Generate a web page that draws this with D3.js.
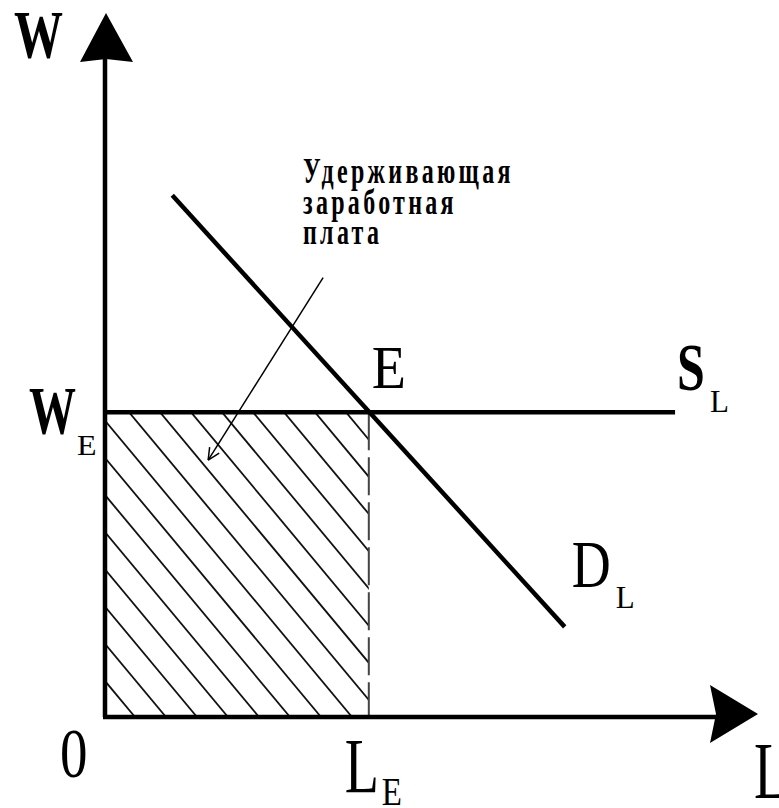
<!DOCTYPE html>
<html>
<head>
<meta charset="utf-8">
<script src="https://cdn.jsdelivr.net/npm/d3@7"></script>
<style>
  html, body { margin: 0; padding: 0; background: #fff; }
  svg { display: block; }
  text { font-family: "Liberation Serif", "Times New Roman", serif; fill: #000; }
</style>
</head>
<body>
<svg id="chart" width="779" height="808"></svg>
<script>
// данные графика (условные единицы)
var axisMax = [100, 100];            // L, W
var demandL = [10.3, 70.4];           // D_L: концы линии спроса
var demandW = [74.1, 12.8];
var supplyL = [0, 87.3];              // S_L: горизонтальная линия предложения
var eqL = 40.4, eqW = 43.3;           // точка равновесия E
var noteArrowL = [33.4, 15.8];        // стрелка от подписи к заштрихованной области
var noteArrowW = [62.4, 36.5];
var noteLines = ["Удерживающая", "заработная", "плата"];

var svg = d3.select("#chart"),
    width = +svg.attr("width"),
    height = +svg.attr("height");

var x = d3.scaleLinear().domain([0, axisMax[0]]).range([105, 758]);
var y = d3.scaleLinear().domain([0, axisMax[1]]).range([717, 13]);

// штриховка
svg.append("clipPath").attr("id", "clip")
  .append("rect")
    .attr("x", x(0)).attr("y", y(eqW))
    .attr("width", x(eqL) - x(0)).attr("height", y(0) - y(eqW));

var slope = 1.2, step = 31, phase = 135;
var hatch = svg.append("g").attr("clip-path", "url(#clip)");
d3.range(-2, 20).forEach(function(k) {
  var xb = phase + k * step;
  hatch.append("line")
    .attr("x1", xb - 400 / slope).attr("y1", y(0) - 400)
    .attr("x2", xb).attr("y2", y(0))
    .attr("stroke", "#111").attr("stroke-width", 1.8);
});

// пунктир L_E
svg.append("line")
  .attr("x1", x(eqL)).attr("y1", y(eqW))
  .attr("x2", x(eqL)).attr("y2", y(0))
  .attr("stroke", "#444").attr("stroke-width", 2)
  .attr("stroke-dasharray", "38,7");

// оси
svg.append("line")
  .attr("x1", x(0)).attr("y1", y(0))
  .attr("x2", x(0)).attr("y2", y(axisMax[1]) + 40)
  .attr("stroke", "#000").attr("stroke-width", 4.5);
svg.append("line")
  .attr("x1", x(0) - 2).attr("y1", y(0))
  .attr("x2", x(axisMax[0]) - 40).attr("y2", y(0))
  .attr("stroke", "#000").attr("stroke-width", 4.5);

// наконечники осей
var tx = x(0) + 1, ty = y(axisMax[1]);
svg.append("path")
  .attr("d", "M" + tx + "," + ty + "L" + (tx + 27) + "," + (ty + 49) + "L" + tx + "," + (ty + 46) + "L" + (tx - 26) + "," + (ty + 49) + "Z")
  .attr("fill", "#000");
var ax = x(axisMax[0]), ay = y(0) - 3;
svg.append("path")
  .attr("d", "M" + ax + "," + ay + "L" + (ax - 48) + "," + (ay - 29) + "L" + (ax - 42) + "," + ay + "L" + (ax - 48) + "," + (ay + 29) + "Z")
  .attr("fill", "#000");

// S_L
svg.append("line")
  .attr("x1", x(supplyL[0])).attr("y1", y(eqW))
  .attr("x2", x(supplyL[1])).attr("y2", y(eqW))
  .attr("stroke", "#000").attr("stroke-width", 4.5);

// D_L
svg.append("line")
  .attr("x1", x(demandL[0])).attr("y1", y(demandW[0]))
  .attr("x2", x(demandL[1])).attr("y2", y(demandW[1]))
  .attr("stroke", "#000").attr("stroke-width", 4.5);

// стрелка-выноска
var a1 = [x(noteArrowL[0]), y(noteArrowW[0])], a2 = [x(noteArrowL[1]), y(noteArrowW[1])];
svg.append("line")
  .attr("x1", a1[0]).attr("y1", a1[1]).attr("x2", a2[0]).attr("y2", a2[1])
  .attr("stroke", "#000").attr("stroke-width", 1.5);
var ang = Math.atan2(a1[1] - a2[1], a1[0] - a2[0]);
[-0.45, 0.45].forEach(function(d) {
  svg.append("line")
    .attr("x1", a2[0]).attr("y1", a2[1])
    .attr("x2", a2[0] + 13 * Math.cos(ang + d)).attr("y2", a2[1] + 13 * Math.sin(ang + d))
    .attr("stroke", "#000").attr("stroke-width", 1.5);
});

// подписи
function label(t, px, py, fs, sy, bold) {
  svg.append("text")
    .attr("transform", "translate(" + px + "," + py + ") scale(1," + sy + ")")
    .style("font-size", fs + "px")
    .style("font-weight", bold ? "bold" : "normal")
    .text(t);
}
label("W", x(0) - 91, y(axisMax[1]) + 44, 49, 1.38, true);
label("W", x(0) - 76, y(eqW) + 21, 47, 1.42, true);
label("E", x(0) - 28, y(eqW) + 43, 32, 0.95, false);
label("E", x(eqL) + 3, y(eqW) - 24, 56, 1.1, false);
label("S", x(supplyL[1]) + 2, y(eqW) - 22, 50, 1.36, true);
label("L", x(supplyL[1]) + 35, y(eqW), 31, 1.0, false);
label("D", x(demandL[1]) + 7, y(demandW[1]) - 40, 54, 1.27, false);
label("L", x(demandL[1]) + 51, y(demandW[1]) - 19, 31, 1.0, false);
label("0", x(0) - 45, y(0) + 60, 55, 1.27, false);
label("L", x(eqL) - 24, y(0) + 75, 56, 1.4, false);
label("E", x(eqL) + 13, y(0) + 88, 33, 1.24, false);
label("L", x(axisMax[0]) - 4, y(0) + 81, 56, 1.43, false);

var note = svg.append("g");
noteLines.forEach(function(t, i) {
  note.append("text")
    .attr("transform", "translate(303," + (183 + i * 30.5) + ") scale(1,1.45)")
    .style("font-size", "24px")
    .style("font-weight", "bold")
    .style("letter-spacing", "3.3px")
    .text(t);
});
</script>
</body>
</html>
